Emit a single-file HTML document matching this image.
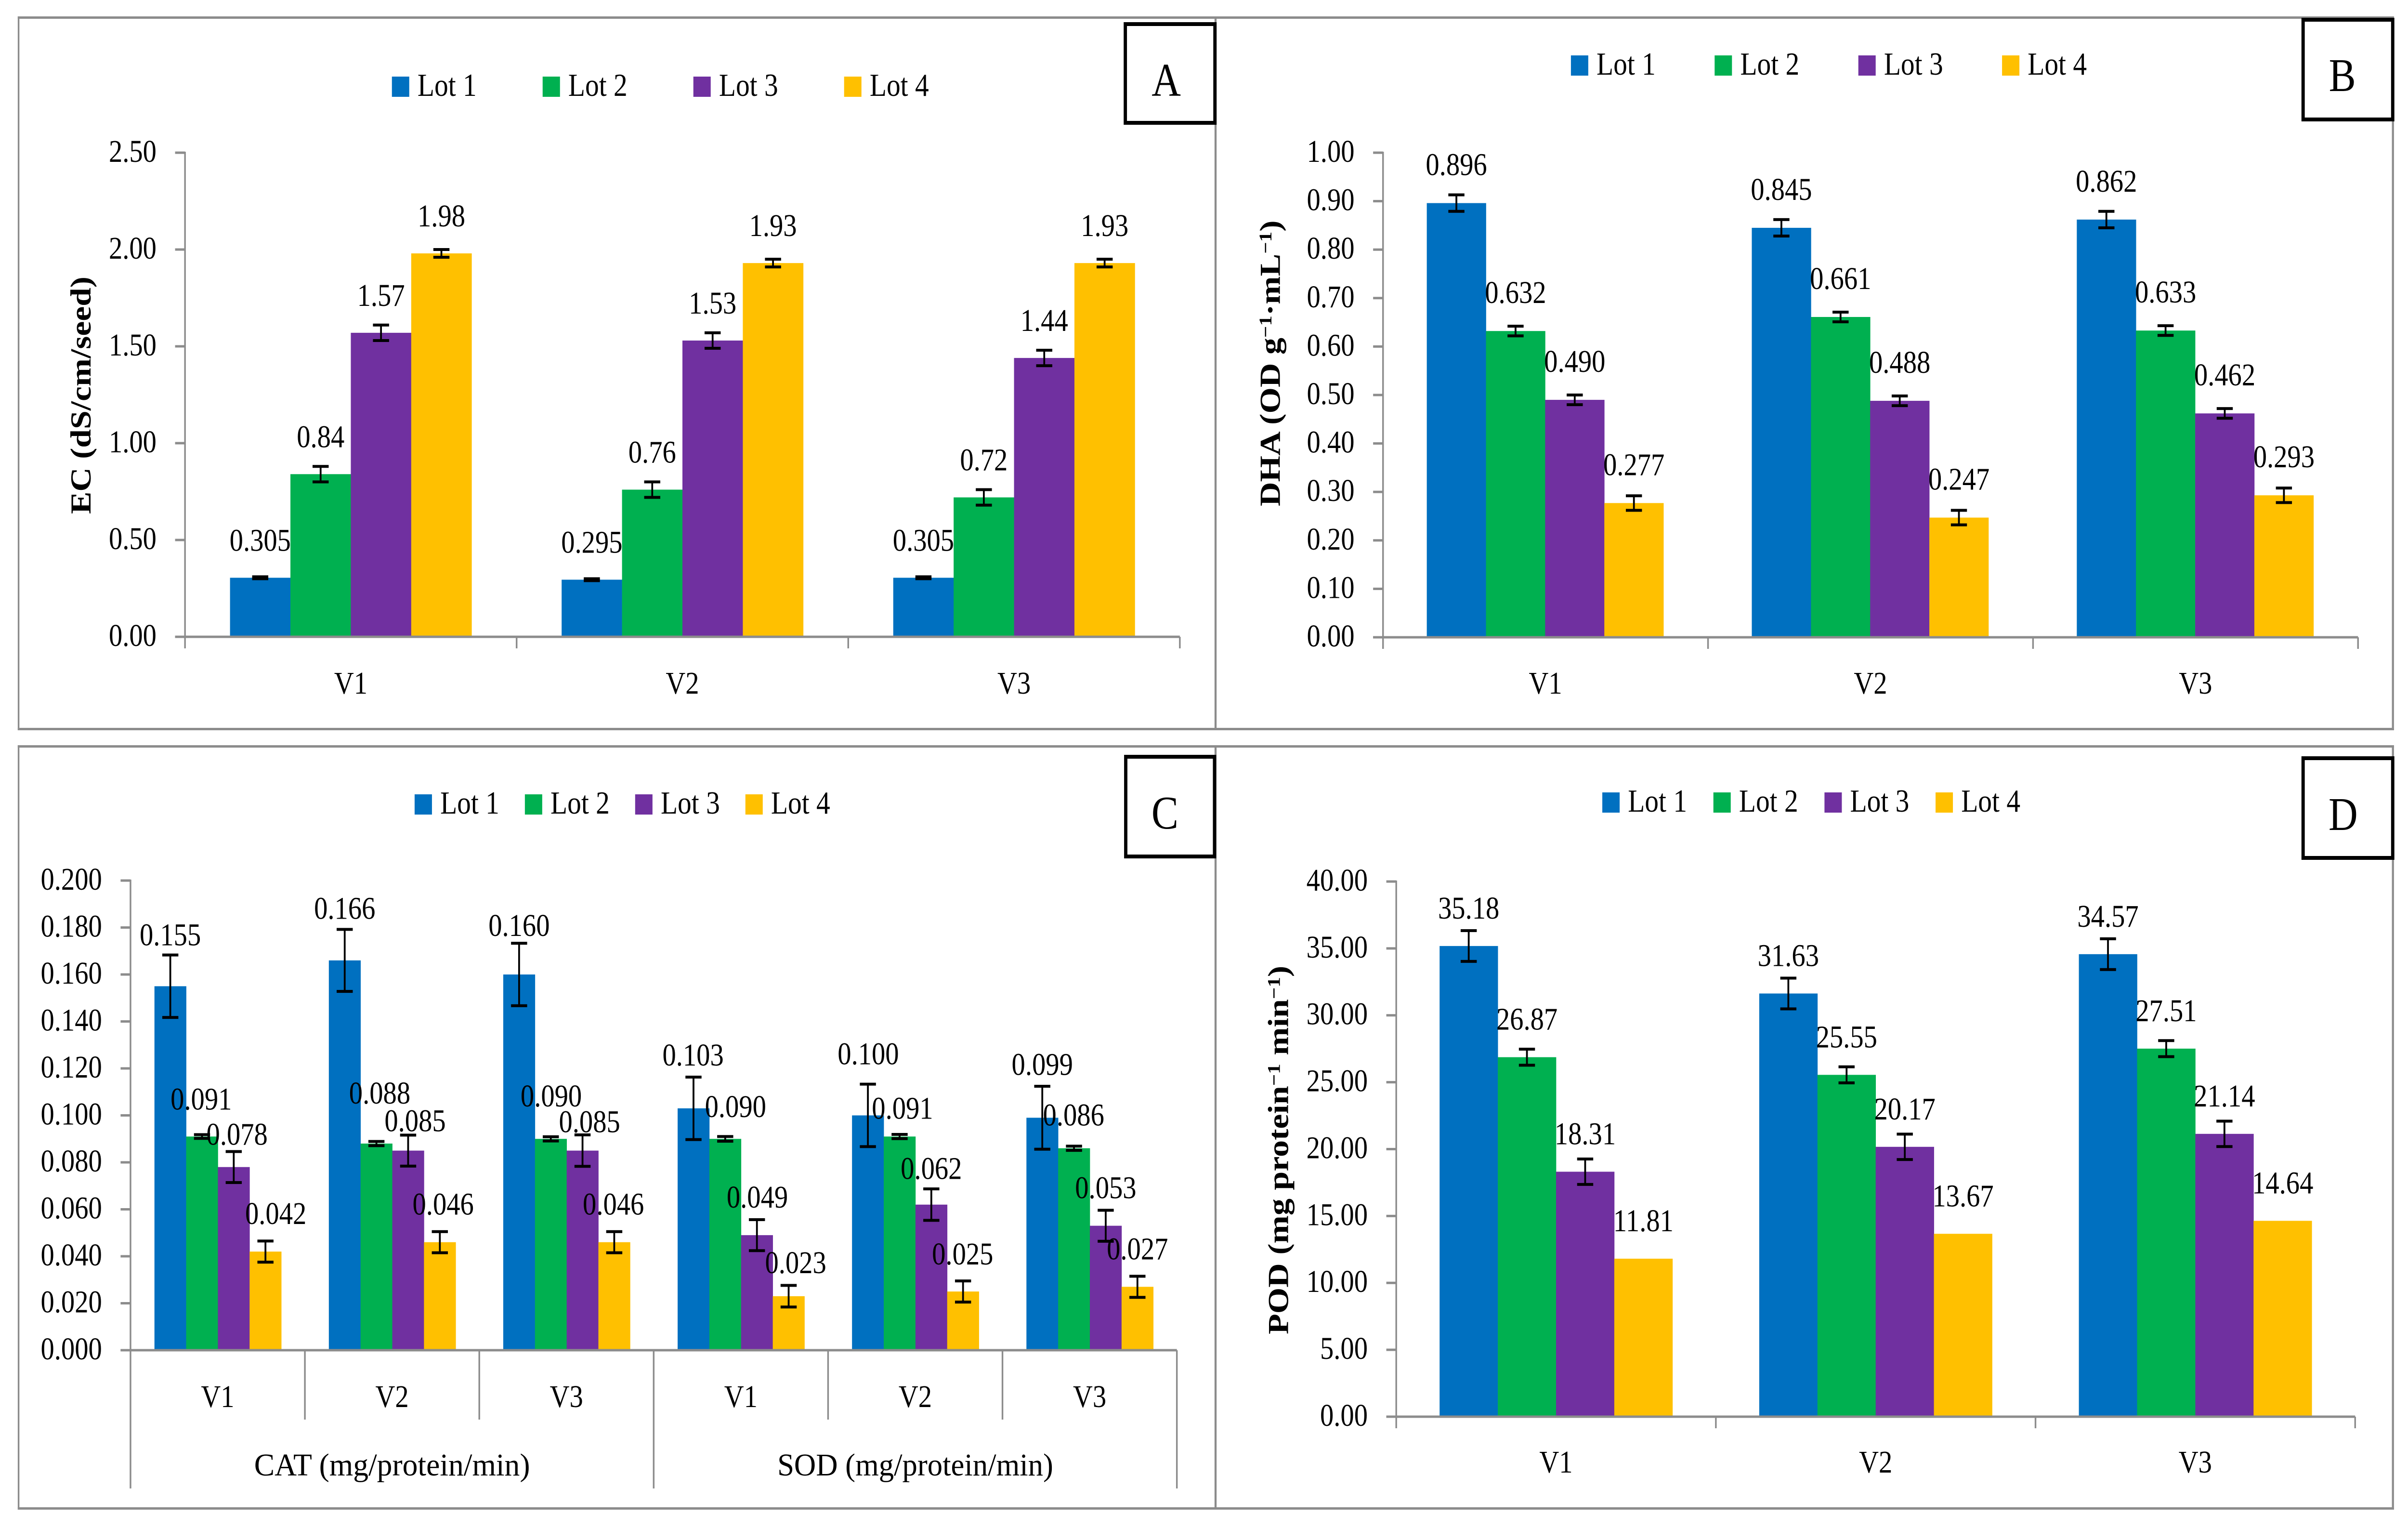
<!DOCTYPE html>
<html lang="en">
<head>
<meta charset="utf-8">
<title>Seed lot vigour charts</title>
<style>
html,body{margin:0;padding:0;background:#fff;width:100%;height:100%;overflow:hidden;}
svg{display:block;width:100vw;height:100vh;}
text{font-family:"Liberation Serif",serif;fill:#000;}
.ytitle{font-weight:bold;font-size:70px;}
.sup{font-size:43px;}
.boxletter{font-size:98px;text-anchor:middle;}
</style>
</head>
<body>
<svg id="figure" xmlns="http://www.w3.org/2000/svg" viewBox="0 0 5831 3170" preserveAspectRatio="none">
<rect x="0" y="0" width="5831" height="3170" fill="#fff"/>
<g fill="#8c8c8c">
<rect x="43" y="34" width="5754" height="5"/>
<rect x="43" y="1511" width="5754" height="5"/>
<rect x="43" y="1547" width="5754" height="5"/>
<rect x="43" y="3129" width="5754" height="5"/>
<rect x="43" y="34" width="4" height="1482"/>
<rect x="43" y="1547" width="4" height="1587"/>
<rect x="2941" y="34" width="5" height="1482"/>
<rect x="2941" y="1547" width="5" height="1587"/>
<rect x="5792" y="34" width="5" height="1482"/>
<rect x="5792" y="1547" width="5" height="1587"/>
</g>
<g id="charts"></g>
<text class="ytitle" transform="translate(219 1067) rotate(-90)" textLength="493" lengthAdjust="spacingAndGlyphs">EC (dS/cm/seed)</text>
<text class="ytitle" transform="translate(3099 1051) rotate(-90)">DHA (OD g<tspan class="sup" dy="-20">−1</tspan><tspan dy="20">·mL</tspan><tspan class="sup" dy="-20">−1</tspan><tspan dy="20">)</tspan></text>
<text class="ytitle" transform="translate(3119 2770) rotate(-90)">POD (mg protein<tspan class="sup" dy="-20">−1</tspan><tspan dy="20"> min</tspan><tspan class="sup" dy="-20">−1</tspan><tspan dy="20">)</tspan></text>
<g>
<rect x="2725" y="50" width="217" height="205" fill="#fff" stroke="#000" stroke-width="8"/>
<text class="boxletter" x="2824" y="199">A</text>
</g>
<g>
<rect x="5577" y="41" width="217" height="207" fill="#fff" stroke="#000" stroke-width="8"/>
<text class="boxletter" x="5672" y="189">B</text>
</g>
<g>
<rect x="2726" y="1571" width="215" height="207" fill="#fff" stroke="#000" stroke-width="8"/>
<text class="boxletter" x="2821" y="1720">C</text>
</g>
<g>
<rect x="5577" y="1574" width="217" height="207" fill="#fff" stroke="#000" stroke-width="8"/>
<text class="boxletter" x="5674" y="1723">D</text>
</g>
</svg>
<script>
// ---- shared categories ----
const lotNames = ['Lot 1', 'Lot 2', 'Lot 3', 'Lot 4'];
const lotColors = ['#0070C0', '#00B050', '#7030A0', '#FFC000'];
const varietyLabels = ['V1', 'V2', 'V3'];
const enzymeVarietyLabels = ['V1', 'V2', 'V3', 'V1', 'V2', 'V3'];
const enzymeGroupLabels = ['CAT (mg/protein/min)', 'SOD (mg/protein/min)'];

// ---- panel A: EC ----
const ecLot1 = [0.305, 0.295, 0.305];
const ecLot2 = [0.84, 0.76, 0.72];
const ecLot3 = [1.57, 1.53, 1.44];
const ecLot4 = [1.98, 1.93, 1.93];
const ecErrLot1 = [0.005, 0.005, 0.005];
const ecErrLot2 = [0.04, 0.04, 0.04];
const ecErrLot3 = [0.04, 0.04, 0.04];
const ecErrLot4 = [0.02, 0.02, 0.02];
const ecTicks = [0, 0.5, 1, 1.5, 2, 2.5];

// ---- panel B: DHA ----
const dhaLot1 = [0.896, 0.845, 0.862];
const dhaLot2 = [0.632, 0.661, 0.633];
const dhaLot3 = [0.490, 0.488, 0.462];
const dhaLot4 = [0.277, 0.247, 0.293];
const dhaErrLot1 = [0.017, 0.017, 0.017];
const dhaErrLot2 = [0.01, 0.01, 0.01];
const dhaErrLot3 = [0.01, 0.01, 0.01];
const dhaErrLot4 = [0.015, 0.015, 0.015];
const dhaTicks = [0, 0.1, 0.2, 0.3, 0.4, 0.5, 0.6, 0.7, 0.8, 0.9, 1];

// ---- panel C: CAT and SOD ----
const enzLot1 = [0.155, 0.166, 0.160, 0.103, 0.100, 0.099];
const enzLot2 = [0.091, 0.088, 0.090, 0.090, 0.091, 0.086];
const enzLot3 = [0.078, 0.085, 0.085, 0.049, 0.062, 0.053];
const enzLot4 = [0.042, 0.046, 0.046, 0.023, 0.025, 0.027];
const enzErrLot1 = [0.0133, 0.0132, 0.0133, 0.0133, 0.0133, 0.0134];
const enzErrLot2 = [0.0008, 0.0009, 0.0009, 0.001, 0.0009, 0.0009];
const enzErrLot3 = [0.0066, 0.0066, 0.0067, 0.0066, 0.0067, 0.0066];
const enzErrLot4 = [0.0045, 0.0045, 0.0045, 0.0046, 0.0045, 0.0045];
const enzTicks = [0, 0.02, 0.04, 0.06, 0.08, 0.1, 0.12, 0.14, 0.16, 0.18, 0.2];
// hand-placed value labels: sideways shift and lift above the bar top
const enzLabelShift = [
  [0, 0, 0, -1, 1, 0],
  [-2, 8, 1, 25, 7, -1],
  [8, 17, 17, 1, 0, 0],
  [25, 8, -2, 17, -1, 0]
];
const enzLabelLift = [
  [85, 86, 80, 89, 106, 89],
  [56, 83, 67, 45, 37, 47],
  [46, 40, 38, 57, 53, 57],
  [57, 57, 57, 48, 56, 57]
];

// ---- panel D: POD ----
const podLot1 = [35.18, 31.63, 34.57];
const podLot2 = [26.87, 25.55, 27.51];
const podLot3 = [18.31, 20.17, 21.14];
const podLot4 = [11.81, 13.67, 14.64];
const podErrLot1 = [1.15, 1.15, 1.15];
const podErrLot2 = [0.6, 0.6, 0.6];
const podErrLot3 = [0.95, 0.95, 0.95];
const podErrLot4 = [0, 0, 0];
const podTicks = [0, 5, 10, 15, 20, 25, 30, 35, 40];

const SVGNS = 'http://www.w3.org/2000/svg';
const root = document.getElementById('charts');
const AXIS = '#8c8c8c';

function mk(parent, tag, attrs, txt) {
  const n = document.createElementNS(SVGNS, tag);
  for (const k in attrs) n.setAttribute(k, attrs[k]);
  if (txt !== undefined) n.textContent = txt;
  parent.appendChild(n);
  return n;
}

function drawPanel(p) {
  const g = mk(root, 'g', {});
  
  

  const yScale = v => p.yZero - (v / p.max) * (p.yZero - p.yTop);
  const barX = (c, s) => p.x0 + p.period * c + p.gap + s * p.barW;
  const nCats = p.series[0].length;
  const xEnd = p.x0 + p.period * nCats;

  // bars
  p.series.forEach((vals, s) => {
    vals.forEach((v, c) => {
      const bar = mk(g, 'rect', {x: barX(c, s), y: yScale(v), width: p.barW + 0.4, height: p.yZero - yScale(v), fill: lotColors[s]});
      
      
    });
  });

  // axis lines and ticks
  const yAxis = mk(g, 'rect', {x: p.x0 - 2, y: p.yTop - 2, width: 4, height: p.yZero - p.yTop + 2, fill: AXIS});
  
  
  const xAxis = mk(g, 'rect', {x: p.x0 - 24, y: p.yZero - 2.5, width: xEnd - p.x0 + 24, height: 5, fill: AXIS});
  
  

  p.ticks.forEach(t => {
    const tick = mk(g, 'rect', {x: p.x0 - 24, y: yScale(t) - 2.5, width: 24, height: 5, fill: AXIS});
    
    
    const lab = mk(g, 'text', {x: p.x0 - 69, y: yScale(t) + 19, 'font-size': 66, 'text-anchor': 'end'}, t.toFixed(p.tickDecimals));
    
    
  });

  // category ticks and labels
  for (let c = 0; c <= nCats; c++) {
    const major = p.groups ? c % 3 === 0 : true;
    const bottom = p.groups ? (major ? p.yZero + 287 : p.yZero + 144) : p.yZero + 24;
    const ct = mk(g, 'rect', {x: p.x0 + p.period * c - 2, y: p.yZero, width: 4, height: bottom - p.yZero, fill: AXIS});
    
    
  }
  p.cats.forEach((name, c) => {
    const lab = mk(g, 'text', {x: p.x0 + p.period * (c + 0.5), y: p.catBase, 'font-size': 66, 'text-anchor': 'middle'}, name);
    
    
  });
  if (p.groups) {
    p.groups.forEach((name, i) => {
      const lab = mk(g, 'text', {x: p.x0 + p.period * (3 * i + 1.5), y: p.groupBase, 'font-size': 66, 'text-anchor': 'middle', textLength: 668, lengthAdjust: 'spacingAndGlyphs'}, name);
      
      
    });
  }

  // error bars
  p.errors.forEach((errs, s) => {
    errs.forEach((e, c) => {
      if (!e) return;
      const cx = barX(c, s) + p.barW / 2;
      const v = p.series[s][c];
      const top = yScale(v + e), bot = yScale(v - e);
      const eg = mk(g, 'g', {fill: '#000'});
      
      
      mk(eg, 'rect', {x: cx - 2.2, y: top, width: 4.4, height: bot - top});
      mk(eg, 'rect', {x: cx - 19.5, y: top - 3, width: 39, height: 6});
      mk(eg, 'rect', {x: cx - 19.5, y: bot - 3, width: 39, height: 6});
    });
  });

  // value labels
  p.series.forEach((vals, s) => {
    vals.forEach((v, c) => {
      const shift = p.shift ? p.shift[s][c] : 0;
      const lift = p.lift ? p.lift[s][c] : p.liftAll;
      const lab = mk(g, 'text', {x: barX(c, s) + p.barW / 2 + shift, y: yScale(v) - lift, 'font-size': 66, 'text-anchor': 'middle'}, v.toFixed(p.decimals[s]));
      
      
    });
  });

  // legend
  lotNames.forEach((name, s) => {
    const entry = mk(g, 'g', {});
    
    
    const lx = p.legendX + s * p.legendStep;
    const sw = mk(entry, 'rect', {x: lx, y: p.legendY, width: 42, height: 42, fill: lotColors[s]});
    
    
    const tx = mk(entry, 'text', {x: lx + 62, y: p.legendY + 40, 'font-size': 67}, name);
    
    
  });
}

drawPanel({
  id: 'ec', x0: 448, yTop: 317, yZero: 1322, max: 2.5, period: 803, gap: 109, barW: 146.25,
  series: [ecLot1, ecLot2, ecLot3, ecLot4], errors: [ecErrLot1, ecErrLot2, ecErrLot3, ecErrLot4],
  ticks: ecTicks, tickDecimals: 2, decimals: [3, 2, 2, 2], liftAll: 56, cats: varietyLabels, catBase: 1440,
  legendX: 949, legendY: 159, legendStep: 365
});
drawPanel({
  id: 'dha', x0: 3349, yTop: 317, yZero: 1323, max: 1, period: 787, gap: 106, barW: 143.3,
  series: [dhaLot1, dhaLot2, dhaLot3, dhaLot4], errors: [dhaErrLot1, dhaErrLot2, dhaErrLot3, dhaErrLot4],
  ticks: dhaTicks, tickDecimals: 2, decimals: [3, 3, 3, 3], liftAll: 58, cats: varietyLabels, catBase: 1440,
  legendX: 3804, legendY: 115, legendStep: 348
});
drawPanel({
  id: 'enzyme', x0: 316, yTop: 1828, yZero: 2803, max: 0.2, period: 422.3, gap: 58, barW: 76.8,
  series: [enzLot1, enzLot2, enzLot3, enzLot4], errors: [enzErrLot1, enzErrLot2, enzErrLot3, enzErrLot4],
  ticks: enzTicks, tickDecimals: 3, decimals: [3, 3, 3, 3], shift: enzLabelShift, lift: enzLabelLift,
  cats: enzymeVarietyLabels, catBase: 2921, groups: enzymeGroupLabels, groupBase: 3063,
  legendX: 1004, legendY: 1649, legendStep: 267
});
drawPanel({
  id: 'pod', x0: 3381, yTop: 1830, yZero: 2941, max: 40, period: 774, gap: 105, barW: 141,
  series: [podLot1, podLot2, podLot3, podLot4], errors: [podErrLot1, podErrLot2, podErrLot3, podErrLot4],
  ticks: podTicks, tickDecimals: 2, decimals: [2, 2, 2, 2], liftAll: 57, cats: varietyLabels, catBase: 3057,
  legendX: 3880, legendY: 1645, legendStep: 269
});
</script>
</body>
</html>
